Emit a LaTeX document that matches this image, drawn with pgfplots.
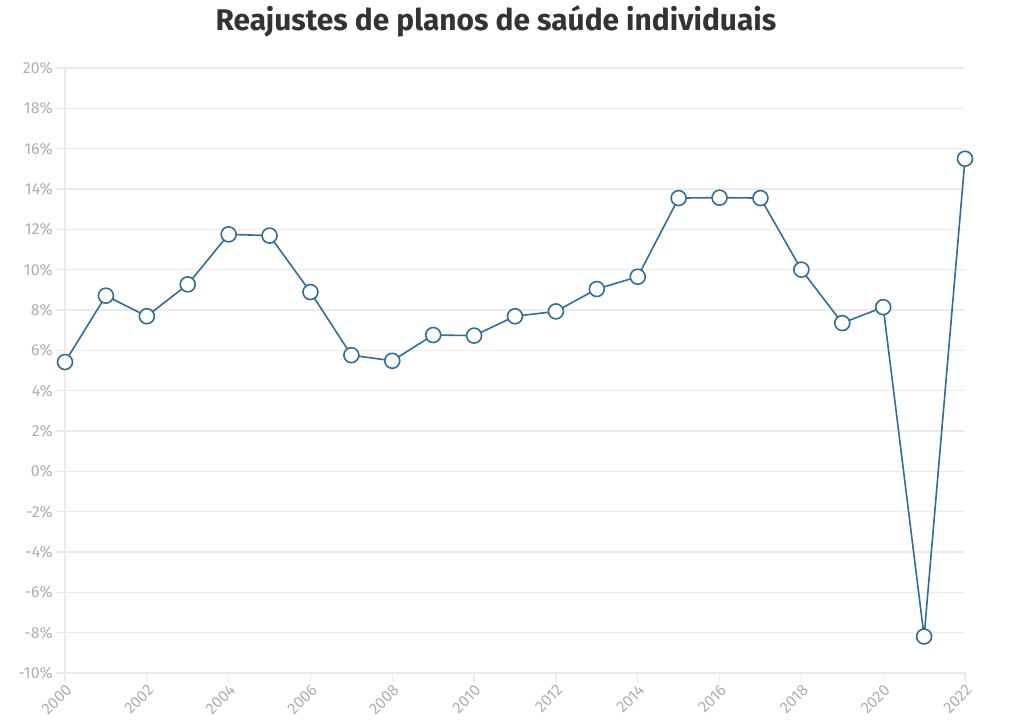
\documentclass[border=0pt]{standalone}
\usepackage{pgfplots}
\pgfplotsset{compat=1.18}
\usepackage{fontspec}
\setmainfont{Fira Sans}
\definecolor{linec}{HTML}{2E6E98}
\definecolor{gridc}{HTML}{EBEBEB}
\definecolor{tickc}{HTML}{AEAEAE}
\definecolor{titlec}{HTML}{333333}
\begin{document}
\begin{tikzpicture}[x=1bp,y=1bp]
\useasboundingbox (-65,-55) rectangle (959,673);
\begin{axis}[
  at={(0,0)}, anchor=south west,
  scale only axis, width=900bp, height=605bp,
  xmin=2000, xmax=2022, ymin=-10, ymax=20,
  xtick={2000,2002,...,2022},
  ytick={-10,-8,...,20},
  axis line style={draw=none},
  ymajorgrids, grid style={gridc, line width=1.3bp},
  major tick length=9bp,
  tick style={gridc, line width=1.3bp},
  xtick pos=bottom, ytick pos=left,
  tick align=outside,
  yticklabel={\pgfmathprintnumber{\tick}\%},
  /pgf/number format/assume math mode=true,
  xticklabel style={/pgf/number format/1000 sep=, rotate=45, anchor=north east, font=\fontsize{16}{18}\selectfont, text=tickc, inner sep=1bp},
  yticklabel style={font=\fontsize{16}{18}\selectfont, text=tickc, inner sep=3bp},
  clip=false,
]
\draw[gridc, line width=1.3bp] (axis cs:2000,-10) -- (axis cs:2000,20);
\draw[gridc, line width=1.3bp] (axis cs:2000,-10) -- (axis cs:2022,-10);
\addplot[linec, line width=1.6bp, mark=*, mark size=7.5bp, mark options={fill=white, draw=linec, line width=1.6bp}] coordinates {
(2000,5.42) (2001,8.71) (2002,7.69) (2003,9.27) (2004,11.75) (2005,11.69)
(2006,8.89) (2007,5.76) (2008,5.48) (2009,6.76) (2010,6.73) (2011,7.69)
(2012,7.93) (2013,9.04) (2014,9.65) (2015,13.55) (2016,13.57) (2017,13.55)
(2018,10.00) (2019,7.35) (2020,8.14) (2021,-8.19) (2022,15.50)
};
\end{axis}
\node[font=\fontsize{30}{34}\selectfont\bfseries, text=titlec] at (431,652) {Reajustes de planos de saúde individuais};
\end{tikzpicture}
\end{document}
